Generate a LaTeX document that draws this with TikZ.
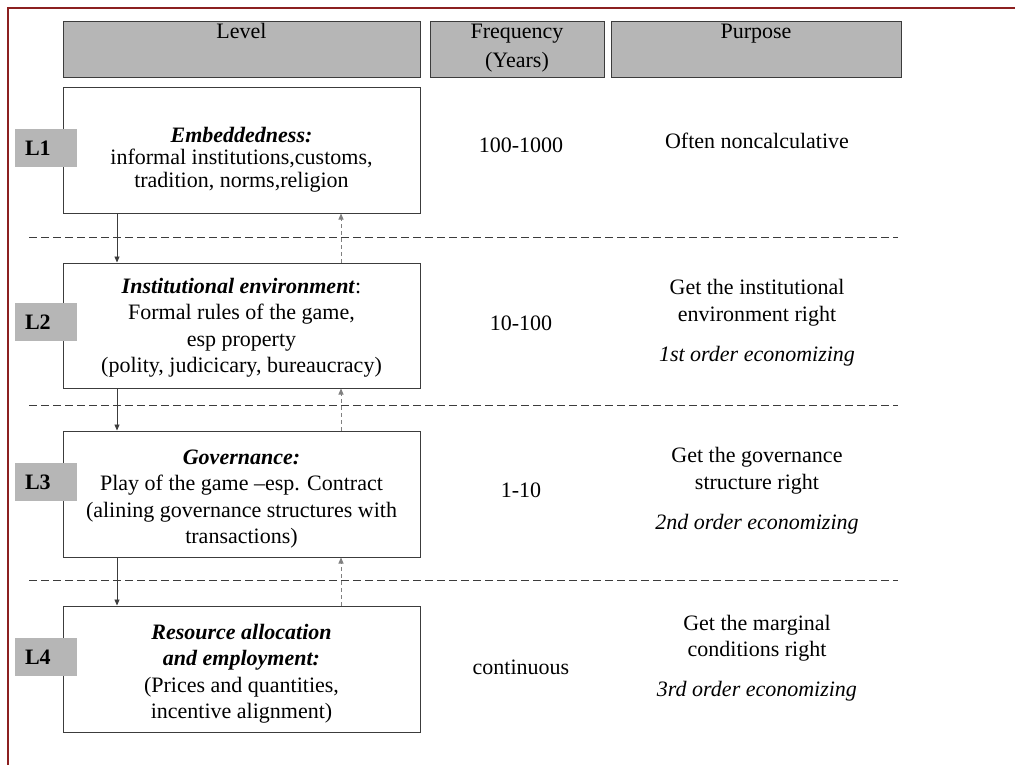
\documentclass[tikz,border=0pt]{standalone}
\usepackage{fontspec}
\setmainfont{Liberation Serif}
\usetikzlibrary{positioning,arrows.meta}
\definecolor{framered}{RGB}{140,32,32}
\definecolor{boxgray}{RGB}{182,182,182}
\definecolor{linegray}{RGB}{60,60,60}

\begin{document}
\begin{tikzpicture}[x=1pt,y=-1pt]

\useasboundingbox (0,0) rectangle (1015,765);

\tikzstyle{every node}=[font=\fontsize{22}{26.5}\selectfont,inner sep=0pt,align=center];
\tikzstyle{headbox}=[draw=linegray,fill=boxgray,line width=1pt,minimum height=56pt];
\tikzstyle{levelbox}=[draw=linegray,line width=1pt,minimum width=357pt];
\tikzstyle{tagbox}=[fill=boxgray,inner xsep=10pt,text width=42pt,align=left,minimum height=38pt,font=\fontsize{22}{26.5}\selectfont\bfseries];
\tikzstyle{sepline}=[draw=linegray,line width=0.9pt,dash pattern=on 8pt off 4pt];
\tikzstyle{downarrow}=[draw=linegray,line width=0.9pt,-{Triangle[length=6pt,width=5pt]}];
\tikzstyle{uparrow}=[draw=gray,line width=0.9pt,dash pattern=on 4pt off 3pt,-{Triangle[length=6pt,width=5pt]}];

% Outer frame
\draw[framered,line width=1.5pt] (8,765) -- (8,8) -- (1015,8);

% Column headers
\node[headbox,minimum width=357pt] (hlevel) at (241.5,50) {};
\node[headbox,minimum width=174pt] (hfreq) at (517,50) {};
\node[headbox,minimum width=290pt] (hpurp) at (756,50) {};
\node[below=2pt of hlevel.north] (tlevel) {Level};
\node[below=2pt of hfreq.north,font=\fontsize{22}{29}\selectfont] (tfreq) {Frequency\\(Years)};
\node[below=2pt of hpurp.north] (tpurp) {Purpose};

% The four level boxes
\node[levelbox,minimum height=125pt] (l1) at (241.5,150.5) {};
\node[levelbox,minimum height=125pt] (l2) at (241.5,325.5) {};
\node[levelbox,minimum height=126pt] (l3) at (241.5,494) {};
\node[levelbox,minimum height=126pt] (l4) at (241.5,669) {};

% Their texts
\node[font=\fontsize{22}{22.5}\selectfont] (l1txt) at (241.5,159.5)
  {\textbf{\textit{Embeddedness:}}\\informal institutions,customs,\\tradition, norms,religion};
\node (l2txt) at (241.5,327.5)
  {\textbf{\textit{Institutional environment}}:\\Formal rules of the game,\\esp property\\(polity, judicicary, bureaucracy)};
\node (l3txt) at (241.5,499)
  {\textbf{\textit{Governance:}}\\Play of the game --esp. Contract\\(alining governance structures with\\transactions)};
\node (l4txt) at (241.5,673.5)
  {\textbf{\textit{Resource allocation}}\\\textbf{\textit{and employment:}}\\(Prices and quantities,\\incentive alignment)};

% Level tags
\node[tagbox] (t1) at (46,148) {L1};
\node[tagbox] (t2) at (46,322) {L2};
\node[tagbox] (t3) at (46,482) {L3};
\node[tagbox] (t4) at (46,657) {L4};

% Frequency column
\node (f1) at (521,145) {100-1000};
\node (f2) at (521,323) {10-100};
\node (f3) at (521,490) {1-10};
\node (f4) at (521,667) {continuous};

% Purpose column
\node (p1) at (757,141) {Often noncalculative};
\node (p2) at (757,322.5) {Get the institutional\\environment right\\[13.5pt]\textit{1st order economizing}};
\node (p3) at (757,490.5) {Get the governance\\structure right\\[13.5pt]\textit{2nd order economizing}};
\node (p4) at (757,658) {Get the marginal\\conditions right\\[13.5pt]\textit{3rd order economizing}};

% Dashed separators
\foreach \y in {237,405,580}
  \draw[sepline] (29,\y) -- (898,\y);

% Links between the levels
\coordinate (dn) at (117,0);
\coordinate (up) at (341,0);
\foreach \a/\b in {l1/l2,l2/l3,l3/l4} {
  \draw[downarrow] (\a.south -| dn) -- (\b.north -| dn);
  \draw[uparrow] (\b.north -| up) -- (\a.south -| up);
}

\end{tikzpicture}
\end{document}
